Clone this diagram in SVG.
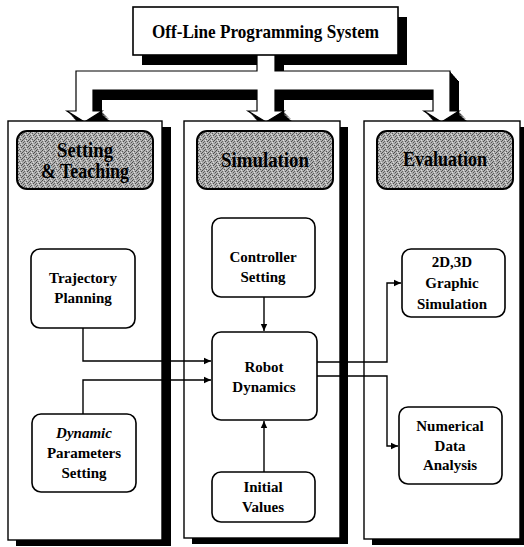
<svg xmlns="http://www.w3.org/2000/svg" width="524" height="547" viewBox="0 0 524 547">
<defs>
<style>
.t{font-family:"Liberation Serif","Times New Roman",serif;font-weight:bold;fill:#000;text-anchor:middle}
.n{font-size:15px}
.h{font-size:20px}
.it{font-style:italic}
.box{fill:#fff;stroke:#000;stroke-width:1.6}
.panel{fill:#fff;stroke:#000;stroke-width:1.4}
.sh{fill:#000}
.hdr{fill:url(#dither);stroke:#000;stroke-width:2}
.c{fill:none;stroke:#000;stroke-width:1.4}
.pipe{fill:#fff;stroke:#000;stroke-width:1.2}
</style>
<pattern id="dither" width="6" height="6" patternUnits="userSpaceOnUse">
<rect width="6" height="6" fill="#b0b0b0"/>
<rect x="0" y="0" width="1" height="1" fill="#4a4a4a"/>
<rect x="3" y="0" width="1" height="1" fill="#d8d8d8"/>
<rect x="2" y="1" width="1" height="1" fill="#555"/>
<rect x="5" y="1" width="1" height="1" fill="#606060"/>
<rect x="1" y="2" width="1" height="1" fill="#e0e0e0"/>
<rect x="4" y="2" width="1" height="1" fill="#505050"/>
<rect x="0" y="3" width="1" height="1" fill="#666"/>
<rect x="3" y="3" width="1" height="1" fill="#4d4d4d"/>
<rect x="2" y="4" width="1" height="1" fill="#dcdcdc"/>
<rect x="5" y="4" width="1" height="1" fill="#585858"/>
<rect x="1" y="5" width="1" height="1" fill="#5c5c5c"/>
<rect x="4" y="5" width="1" height="1" fill="#8a8a8a"/>
</pattern>
<marker id="ah" markerWidth="8" markerHeight="8" refX="7" refY="4" orient="auto" markerUnits="userSpaceOnUse"><path d="M0,0.8 L7,4 L0,7.2 Z" fill="#000"/></marker>
<path id="pipeShape" d="M76,71 H257 V50 H275 V71 H450 V111 H459 L441.5,122 L424,111 H433 V90 H275 V111 H284 L266,122 L248,111 H257 V90 H93 V111 H102 L84.5,122 L67,111 H76 Z"/>
</defs>
<rect width="524" height="547" fill="#fff"/>

<g id="distribution-pipe">
<rect class="sh" x="142" y="17" width="265" height="48"/>
<g class="sh">
<use href="#pipeShape" transform="translate(1,1.1)"/>
<use href="#pipeShape" transform="translate(2,2.2)"/>
<use href="#pipeShape" transform="translate(3,3.3)"/>
<use href="#pipeShape" transform="translate(4,4.4)"/>
<use href="#pipeShape" transform="translate(5,5.6)"/>
<use href="#pipeShape" transform="translate(6,6.7)"/>
<use href="#pipeShape" transform="translate(7,7.8)"/>
<use href="#pipeShape" transform="translate(8,8.9)"/>
<use href="#pipeShape" transform="translate(9,10)"/>
</g>
<use href="#pipeShape" class="pipe"/>
</g>

<g id="offline-programming-system">
<rect class="box" x="133" y="7" width="265" height="48"/>
<text class="t" x="265.5" y="38" font-size="19" textLength="227" lengthAdjust="spacingAndGlyphs">Off-Line Programming System</text>
</g>

<g id="panel-setting">
<rect class="sh" x="16" y="127" width="155" height="419"/>
<rect class="panel" x="8" y="121" width="154" height="419"/>
</g>
<g id="panel-simulation">
<rect class="sh" x="192" y="127" width="156" height="417"/>
<rect class="panel" x="184" y="121" width="156" height="417"/>
</g>
<g id="panel-evaluation">
<rect class="sh" x="372" y="127" width="156" height="418"/>
<rect class="panel" x="364" y="121" width="156" height="418"/>
</g>

<g id="header-setting">
<rect class="hdr" x="17" y="131" width="136" height="58" rx="10"/>
<text class="t h" x="85" y="157" textLength="56" lengthAdjust="spacingAndGlyphs">Setting</text>
<text class="t h" x="85" y="178" textLength="88" lengthAdjust="spacingAndGlyphs">&amp; Teaching</text>
</g>
<g id="header-simulation">
<rect class="hdr" x="197" y="131" width="136" height="58" rx="10"/>
<text class="t h" x="265" y="167" textLength="88" lengthAdjust="spacingAndGlyphs">Simulation</text>
</g>
<g id="header-evaluation">
<rect class="hdr" x="377" y="131" width="136" height="58" rx="10"/>
<text class="t h" x="445" y="166" textLength="84" lengthAdjust="spacingAndGlyphs">Evaluation</text>
</g>

<g id="trajectory-planning">
<rect class="box" x="31" y="249" width="104" height="79" rx="9"/>
<text class="t n" x="83" y="283">Trajectory</text>
<text class="t n" x="83" y="303">Planning</text>
</g>
<g id="dynamic-parameters-setting">
<rect class="box" x="32" y="414" width="104" height="78" rx="9"/>
<text class="t n it" x="84" y="438">Dynamic</text>
<text class="t n" x="84" y="458">Parameters</text>
<text class="t n" x="84" y="478">Setting</text>
</g>
<g id="controller-setting">
<rect class="box" x="212" y="218" width="103" height="79" rx="9"/>
<text class="t n" x="263" y="262">Controller</text>
<text class="t n" x="263" y="282">Setting</text>
</g>
<g id="robot-dynamics">
<rect class="box" x="212" y="332" width="105" height="88" rx="9"/>
<text class="t n" x="264" y="372">Robot</text>
<text class="t n" x="264" y="392">Dynamics</text>
</g>
<g id="initial-values">
<rect class="box" x="212" y="472" width="103" height="50" rx="9"/>
<text class="t n" x="263" y="492">Initial</text>
<text class="t n" x="263" y="512">Values</text>
</g>
<g id="graphic-simulation">
<rect class="box" x="402" y="249" width="103" height="68" rx="9"/>
<text class="t n" x="452" y="267">2D,3D</text>
<text class="t n" x="452" y="288">Graphic</text>
<text class="t n" x="452" y="309">Simulation</text>
</g>
<g id="numerical-data-analysis">
<rect class="box" x="399" y="407" width="103" height="77" rx="9"/>
<text class="t n" x="450" y="431">Numerical</text>
<text class="t n" x="450" y="451">Data</text>
<text class="t n" x="450" y="470">Analysis</text>
</g>

<g id="connectors">
<path class="c" d="M83,328 V361 H211" marker-end="url(#ah)"/>
<path class="c" d="M83,414 V380 H211" marker-end="url(#ah)"/>
<path class="c" d="M264,297 V331" marker-end="url(#ah)"/>
<path class="c" d="M264,472 V421" marker-end="url(#ah)"/>
<path class="c" d="M317,362 H387 V283 H401" marker-end="url(#ah)"/>
<path class="c" d="M317,376 H387 V446 H398" marker-end="url(#ah)"/>
</g>
</svg>
